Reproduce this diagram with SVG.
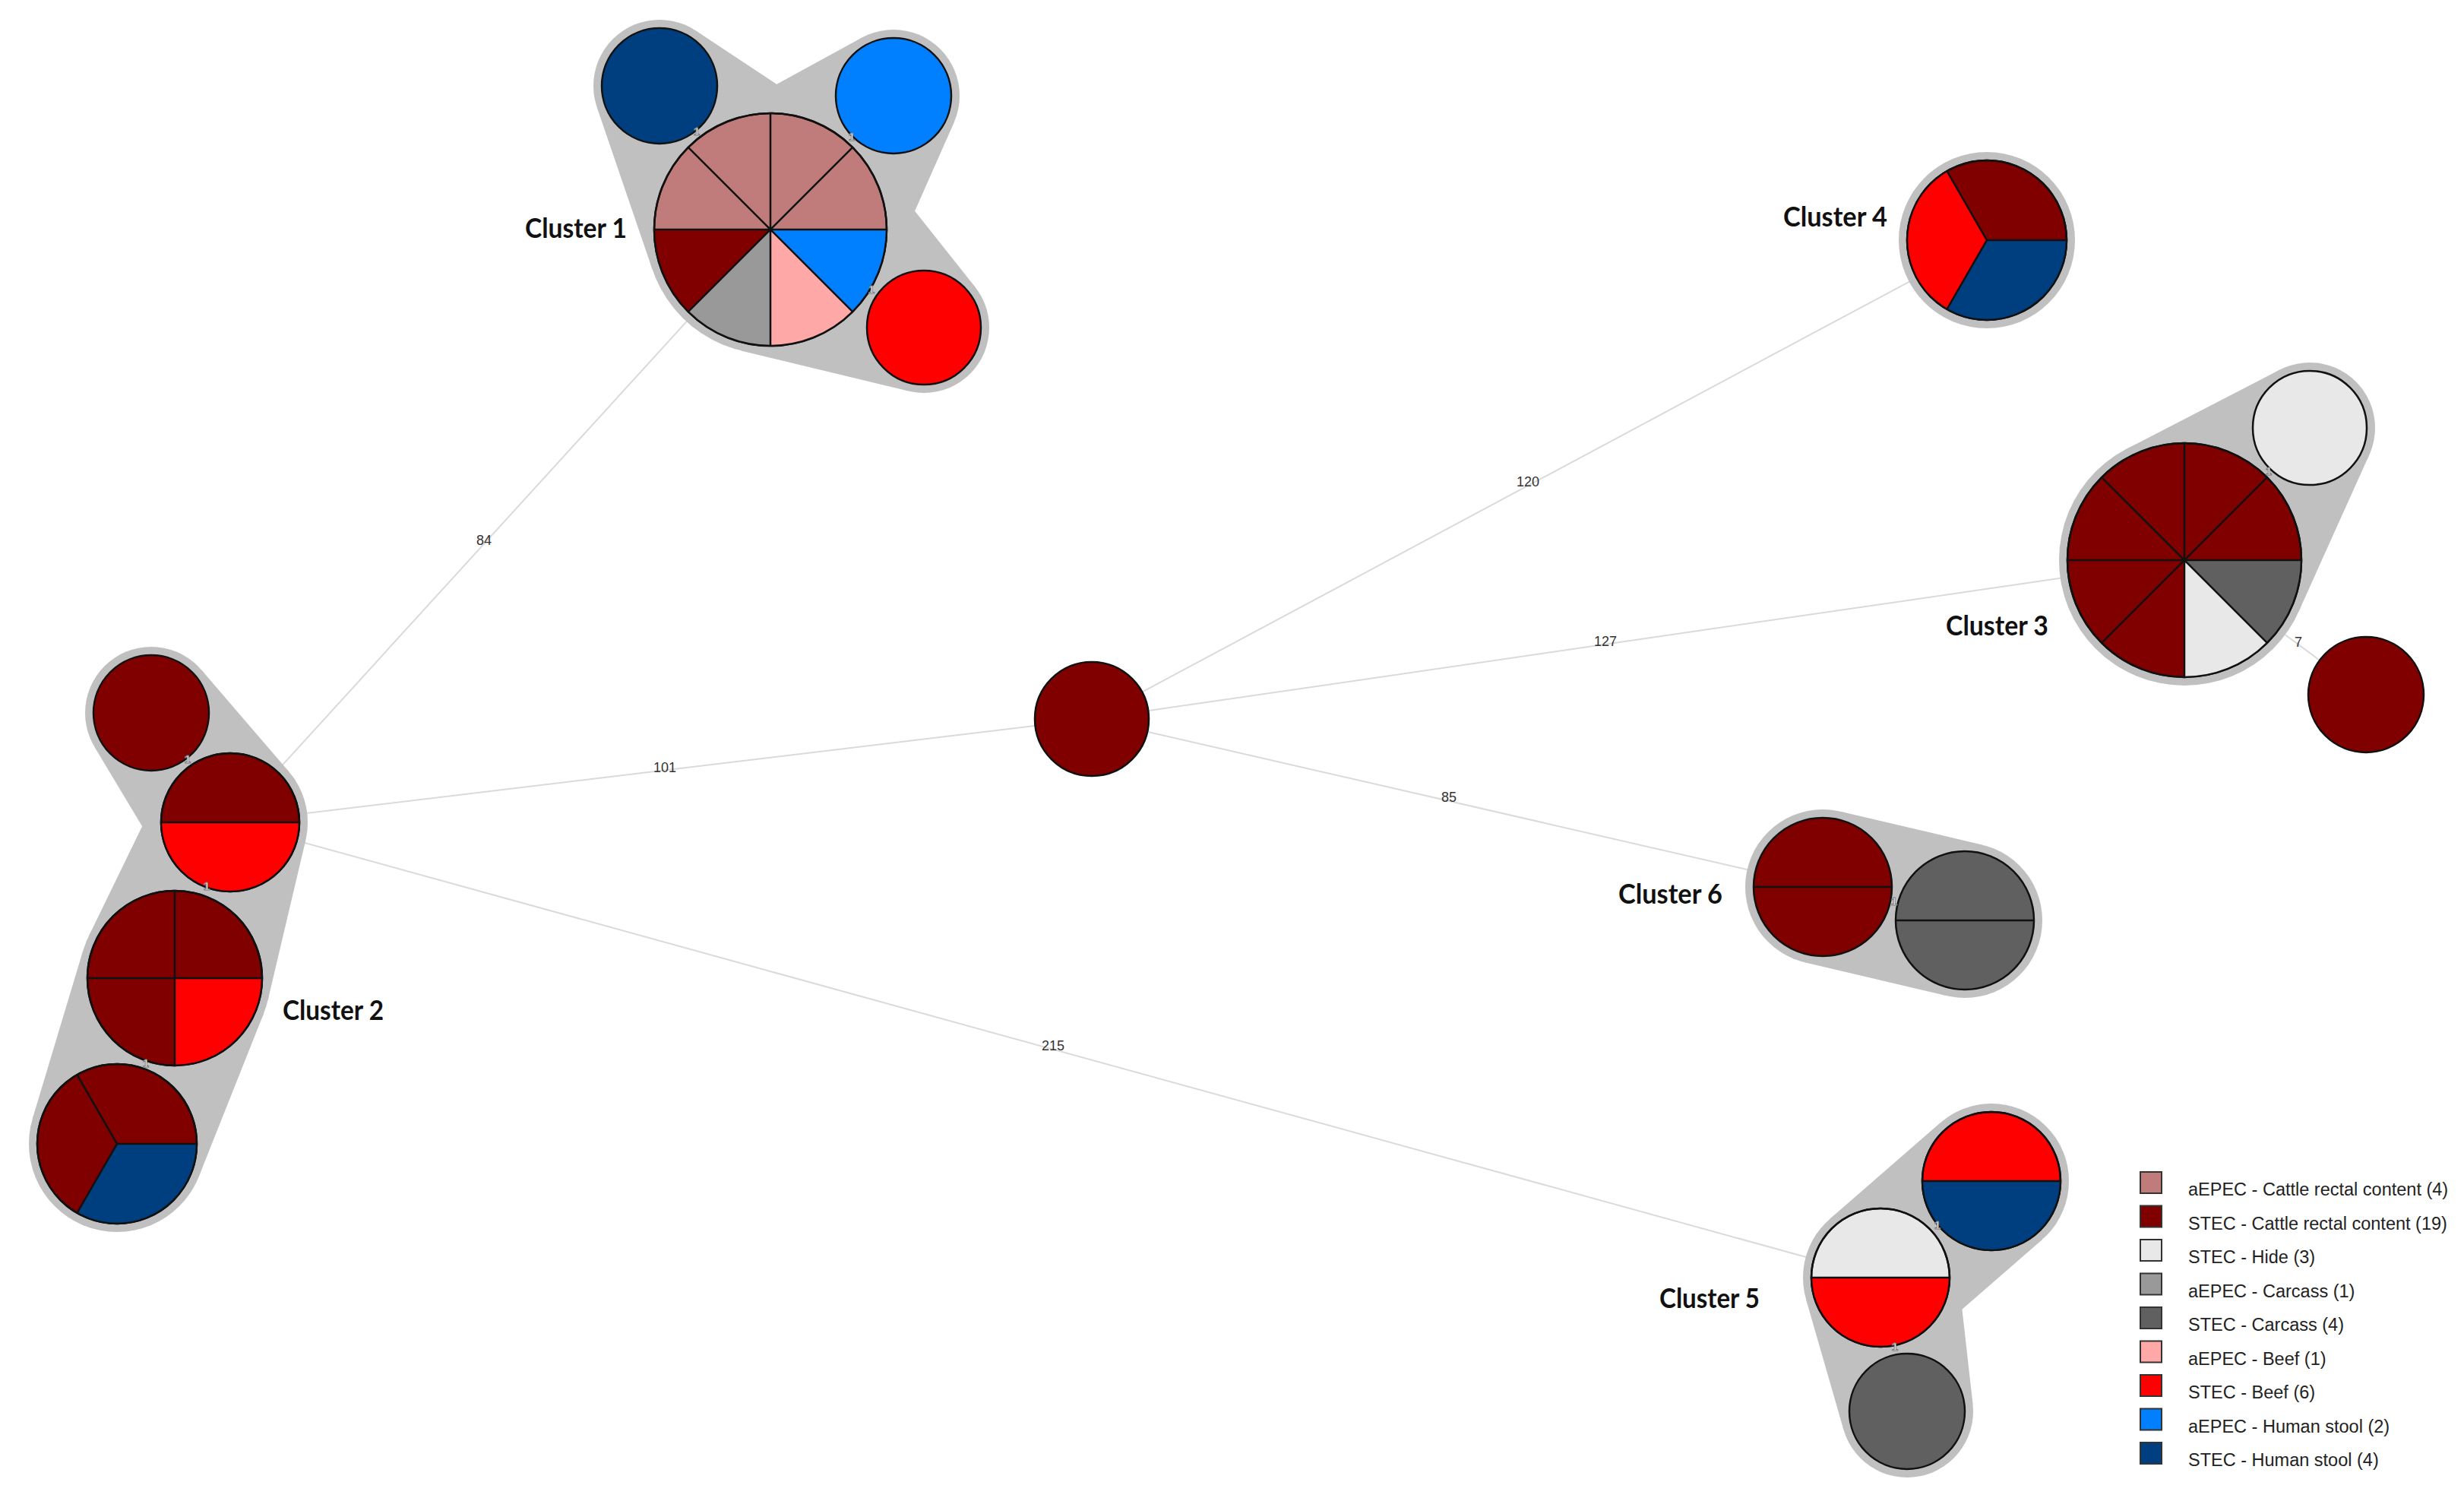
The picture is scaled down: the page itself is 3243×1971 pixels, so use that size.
<svg xmlns="http://www.w3.org/2000/svg" width="3243" height="1971" viewBox="0 0 3243 1971">
<style>
.edge{stroke:#dadada;stroke-width:2;fill:none}
.hull{fill:#c0c0c0;stroke:none}
.n{stroke:#111;stroke-width:2.5}
.div{stroke:#111;stroke-width:2.5;fill:none}
.dr{fill:#800000}.ro{fill:#c07c7a}.wh{fill:#e8e8e8}.g1{fill:#999999}.g2{fill:#606060}.pk{fill:#ffa8a8}.rd{fill:#ff0000}.lb{fill:#0080ff}.nv{fill:#003f7f}
.el{font-family:"Liberation Sans",Arial,sans-serif;font-size:18px;fill:#333;text-anchor:middle;dominant-baseline:central}
.one{font-family:"Liberation Sans",Arial,sans-serif;font-size:15px;font-weight:bold;fill:#fff;stroke:#777;stroke-width:0.9;text-anchor:middle;dominant-baseline:central}
.cl{font-family:Lato,"Open Sans",sans-serif;font-size:36px;font-weight:bold;fill:#111}
.lg{font-family:"Liberation Sans",Arial,sans-serif;font-size:23.5px;fill:#222}
.sq{stroke:#333;stroke-width:2}
</style>
<rect width="3243" height="1971" fill="#ffffff"/>
<g id="connectors">
<line class="edge" x1="303" y1="1082" x2="1014" y2="302"/>
<line class="edge" x1="303" y1="1082" x2="1437" y2="946"/>
<line class="edge" x1="303" y1="1082" x2="2475" y2="1681"/>
<line class="edge" x1="1437" y1="946" x2="2615" y2="316"/>
<line class="edge" x1="1437" y1="946" x2="2875" y2="737"/>
<line class="edge" x1="1437" y1="946" x2="2399" y2="1167"/>
<line class="edge" x1="2875" y1="737" x2="3114" y2="914"/>
<text class="el" x="637" y="711">84</text>
<text class="el" x="875" y="1010">101</text>
<text class="el" x="1386" y="1376">215</text>
<text class="el" x="2011" y="634">120</text>
<text class="el" x="2113" y="844">127</text>
<text class="el" x="1907" y="1049">85</text>
<text class="el" x="3025" y="845">7</text>
</g>
<g id="cluster1">
<circle class="hull" cx="1014" cy="302" r="164"/>
<circle class="hull" cx="868" cy="113" r="87"/>
<circle class="hull" cx="1176" cy="126" r="87"/>
<circle class="hull" cx="1216" cy="431" r="86"/>
<polygon class="hull" points="1104.5,165.2 916,40.5 785.7,141.2 858.8,355.1"/>
<polygon class="hull" points="1164,368.3 1255.6,161.2 1134.4,49.6 935.5,158"/>
<polygon class="hull" points="975.5,461.4 1195.8,514.6 1283.3,377.5 1142.4,200"/>
<circle class="n nv" cx="868" cy="113" r="76"/>
<circle class="n lb" cx="1176" cy="126" r="76"/>
<circle class="n rd" cx="1216" cy="431" r="75"/>
<circle class="n ro" cx="1014" cy="302" r="153"/>
<path class="lb" d="M1014 302 L1167 302 A153 153 0 0 1 1122.2 410.2 Z"/>
<path class="pk" d="M1014 302 L1122.2 410.2 A153 153 0 0 1 1014 455 Z"/>
<path class="g1" d="M1014 302 L1014 455 A153 153 0 0 1 905.8 410.2 Z"/>
<path class="dr" d="M1014 302 L905.8 410.2 A153 153 0 0 1 861 302 Z"/>
<path class="div" d="M1014 149 L1014 455 M861 302 L1167 302 M905.8 193.8 L1122.2 410.2 M1122.2 193.8 L905.8 410.2"/>
<circle class="div" cx="1014" cy="302" r="153"/>
<text class="one" x="917" y="172">1</text>
<text class="one" x="1121" y="179">1</text>
<text class="one" x="1147" y="380">1</text>
<text class="cl" x="691" y="313" textLength="134" lengthAdjust="spacingAndGlyphs">Cluster 1</text>
</g>
<g id="cluster2">
<circle class="hull" cx="199" cy="938" r="87"/>
<circle class="hull" cx="303" cy="1082" r="102"/>
<circle class="hull" cx="230" cy="1287" r="126"/>
<circle class="hull" cx="154" cy="1505" r="116"/>
<polygon class="hull" points="124.4,982.8 215.5,1134.5 380.4,1015.5 265,881.3"/>
<polygon class="hull" points="211.3,1037.4 116.7,1231.9 352.6,1315.9 402.3,1105.4"/>
<polygon class="hull" points="109.3,1250.7 42.9,1471.6 261.8,1547.9 347.1,1333.6"/>
<circle class="n dr" cx="199" cy="938" r="76"/>
<circle class="n dr" cx="303" cy="1082" r="91"/>
<path class="rd" d="M212 1082 A91 91 0 0 0 394 1082 Z"/>
<path class="div" d="M212 1082 L394 1082"/>
<circle class="div" cx="303" cy="1082" r="91"/>
<circle class="n dr" cx="230" cy="1287" r="115"/>
<path class="rd" d="M230 1287 L345 1287 A115 115 0 0 1 230 1402 Z"/>
<path class="div" d="M115 1287 L345 1287 M230 1172 L230 1402"/>
<circle class="div" cx="230" cy="1287" r="115"/>
<circle class="n dr" cx="154" cy="1505" r="105"/>
<path class="nv" d="M154 1505 L259 1505 A105 105 0 0 1 101.5 1595.9 Z"/>
<path class="div" d="M154 1505 L259 1505 M154 1505 L101.5 1595.9 M154 1505 L101.5 1414.1"/>
<circle class="div" cx="154" cy="1505" r="105"/>
<text class="one" x="247" y="998">1</text>
<text class="one" x="272" y="1165">1</text>
<text class="one" x="192" y="1398">1</text>
<text class="cl" x="372" y="1342" textLength="133" lengthAdjust="spacingAndGlyphs">Cluster 2</text>
</g>
<g id="center-node">
<circle class="n dr" cx="1437" cy="946" r="75"/>
</g>
<g id="cluster3">
<circle class="hull" cx="2875" cy="737" r="165"/>
<circle class="hull" cx="3040" cy="563" r="86"/>
<polygon class="hull" points="3025.4,804.8 3118.4,598.3 3000.6,486.6 2799.4,590.4"/>
<circle class="n wh" cx="3040" cy="563" r="75"/>
<circle class="n dr" cx="2875" cy="737" r="154"/>
<path class="g2" d="M2875 737 L3029 737 A154 154 0 0 1 2983.9 845.9 Z"/>
<path class="wh" d="M2875 737 L2983.9 845.9 A154 154 0 0 1 2875 891 Z"/>
<path class="div" d="M2875 583 L2875 891 M2721 737 L3029 737 M2766.1 628.1 L2983.9 845.9 M2983.9 628.1 L2766.1 845.9"/>
<circle class="div" cx="2875" cy="737" r="154"/>
<text class="one" x="2986" y="619">1</text>
<text class="cl" x="2561" y="836" textLength="135" lengthAdjust="spacingAndGlyphs">Cluster 3</text>
</g>
<g id="single-node">
<circle class="n dr" cx="3114" cy="914" r="76"/>
</g>
<g id="cluster4">
<circle class="hull" cx="2615" cy="316" r="116"/>
<circle class="n dr" cx="2615" cy="316" r="105"/>
<path class="nv" d="M2615 316 L2720 316 A105 105 0 0 1 2562.5 406.9 Z"/>
<path class="rd" d="M2615 316 L2562.5 406.9 A105 105 0 0 1 2562.5 225.1 Z"/>
<path class="div" d="M2615 316 L2720 316 M2615 316 L2562.5 406.9 M2615 316 L2562.5 225.1"/>
<circle class="div" cx="2615" cy="316" r="105"/>
<text class="cl" x="2347" y="298" textLength="137" lengthAdjust="spacingAndGlyphs">Cluster 4</text>
</g>
<g id="cluster5">
<circle class="hull" cx="2475" cy="1681" r="102"/>
<circle class="hull" cx="2621" cy="1554" r="102"/>
<circle class="hull" cx="2510" cy="1857" r="87"/>
<polygon class="hull" points="2541.9,1758 2687.9,1631 2554.1,1477 2408.1,1604"/>
<polygon class="hull" points="2376.9,1709.2 2426.4,1881 2596.5,1847.2 2576.4,1669.5"/>
<circle class="n rd" cx="2621" cy="1554" r="91"/>
<path class="nv" d="M2530 1554 A91 91 0 0 0 2712 1554 Z"/>
<path class="div" d="M2530 1554 L2712 1554"/>
<circle class="div" cx="2621" cy="1554" r="91"/>
<circle class="n wh" cx="2475" cy="1681" r="91"/>
<path class="rd" d="M2384 1681 A91 91 0 0 0 2566 1681 Z"/>
<path class="div" d="M2384 1681 L2566 1681"/>
<circle class="div" cx="2475" cy="1681" r="91"/>
<circle class="n g2" cx="2510" cy="1857" r="76"/>
<text class="one" x="2550" y="1611">1</text>
<text class="one" x="2494" y="1771">1</text>
<text class="cl" x="2184" y="1721" textLength="132" lengthAdjust="spacingAndGlyphs">Cluster 5</text>
</g>
<g id="cluster6">
<circle class="hull" cx="2399" cy="1167" r="102"/>
<circle class="hull" cx="2586" cy="1211" r="102"/>
<polygon class="hull" points="2375.6,1266.3 2562.6,1310.3 2609.4,1111.7 2422.4,1067.7"/>
<circle class="n dr" cx="2399" cy="1167" r="91"/>
<path class="div" d="M2308 1167 L2490 1167"/>
<circle class="n g2" cx="2586" cy="1211" r="91"/>
<path class="div" d="M2495 1211 L2677 1211"/>
<text class="one" x="2493" y="1185">1</text>
<text class="cl" x="2130" y="1189" textLength="137" lengthAdjust="spacingAndGlyphs">Cluster 6</text>
</g>
<g id="legend">
<rect class="sq ro" x="2817" y="1542" width="28" height="28"/>
<rect class="sq dr" x="2817" y="1586.5" width="28" height="28"/>
<rect class="sq wh" x="2817" y="1631" width="28" height="28"/>
<rect class="sq g1" x="2817" y="1675.5" width="28" height="28"/>
<rect class="sq g2" x="2817" y="1720" width="28" height="28"/>
<rect class="sq pk" x="2817" y="1764.5" width="28" height="28"/>
<rect class="sq rd" x="2817" y="1809" width="28" height="28"/>
<rect class="sq lb" x="2817" y="1853.5" width="28" height="28"/>
<rect class="sq nv" x="2817" y="1898" width="28" height="28"/>
<text class="lg" x="2880" y="1573">aEPEC - Cattle rectal content (4)</text>
<text class="lg" x="2880" y="1617.5">STEC - Cattle rectal content (19)</text>
<text class="lg" x="2880" y="1662">STEC - Hide (3)</text>
<text class="lg" x="2880" y="1706.5">aEPEC - Carcass (1)</text>
<text class="lg" x="2880" y="1751">STEC - Carcass (4)</text>
<text class="lg" x="2880" y="1795.5">aEPEC - Beef (1)</text>
<text class="lg" x="2880" y="1840">STEC - Beef (6)</text>
<text class="lg" x="2880" y="1884.5">aEPEC - Human stool (2)</text>
<text class="lg" x="2880" y="1929">STEC - Human stool (4)</text>
</g>
</svg>
